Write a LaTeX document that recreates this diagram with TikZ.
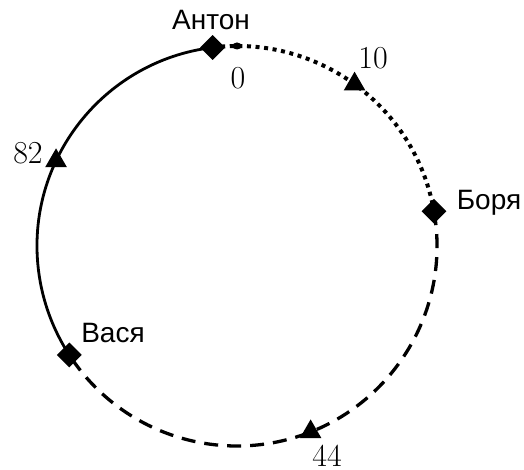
\documentclass[tikz,border=0pt]{standalone}
\usepackage{fontspec}
\newfontfamily\namefont{Liberation Sans}
\usetikzlibrary{shapes.geometric,calc}
\begin{document}
\begin{tikzpicture}[x=1pt,y=1pt,
  person/.style={diamond,fill=black,inner sep=0pt,minimum size=25pt},
  keymark/.style={regular polygon,regular polygon sides=3,fill=black,inner sep=0pt,minimum size=25pt},
  zerodot/.style={ellipse,fill=black,inner sep=0pt,minimum width=9pt,minimum height=7pt},
  namelbl/.style={font=\namefont\fontsize{28}{30}\selectfont,inner sep=0pt},
  numlbl/.style={font=\fontsize{32}{36}\selectfont,inner sep=0pt},
  ring/.style={line width=2.8pt},
  ringdot/.style={line width=4pt,dash pattern=on 4pt off 4.6pt},
  ringdash/.style={line width=3.3pt,dash pattern=on 14pt off 9pt}]
\useasboundingbox (0,0) rectangle (524,470);
\coordinate (o) at (237,224);
\coordinate (anton) at ($(o)+(97:200)$);
\coordinate (borya) at ($(o)+(10:200)$);
\coordinate (vasya) at ($(o)+(213:200)$);
% arcs
\draw[ring] (anton) arc[start angle=97,end angle=213,radius=200pt];
\draw[ringdot] (anton) arc[start angle=97,end angle=10,radius=200pt];
\draw[ringdash] (borya) arc[start angle=10,end angle=-147,radius=200pt];
% marks
\node[zerodot] (k0) at ($(o)+(90:200)$) {};
\node[keymark] (k10) at ($(o)+(54:200)$) {};
\node[keymark] (k44) at ($(o)+(-68.4:200)$) {};
\node[keymark] (k82) at ($(o)+(154.8:200)$) {};
\node[person] (pa) at (anton) {};
\node[person] (pb) at (borya) {};
\node[person] (pv) at (vasya) {};
% labels
\node[namelbl] (la) at (211,450) {Антон};
\node[namelbl] (lb) at (489,267) {Боря};
\node[namelbl] (lv) at (113,137) {Вася};
\node[numlbl] (n0) at (238,392) {0};
\node[numlbl] (n10) at (373,412) {10};
\node[numlbl] (n82) at (28,317) {82};
\node[numlbl] (n44) at (327,14) {44};
\end{tikzpicture}
\end{document}
